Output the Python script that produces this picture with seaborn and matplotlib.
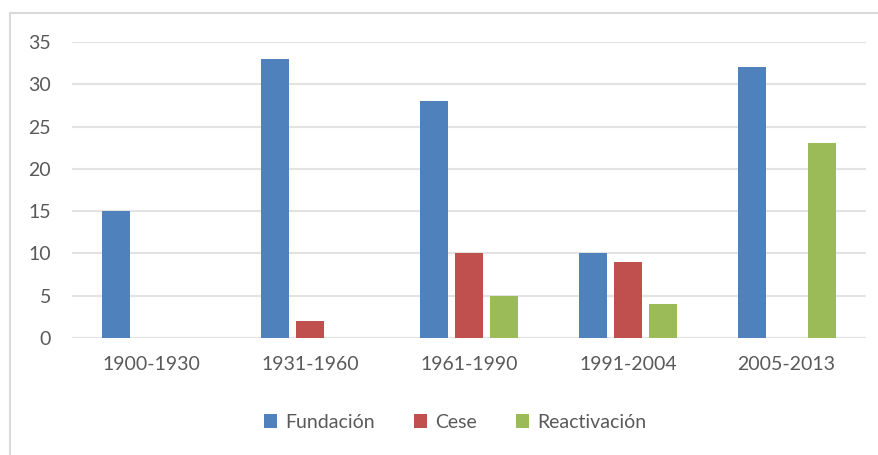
import matplotlib
matplotlib.use('Agg')
import matplotlib.pyplot as plt
from matplotlib.patches import Rectangle
import pandas as pd
import seaborn as sns

periods = ['1900-1930', '1931-1960', '1961-1990', '1991-2004', '2005-2013']
fundacion = [15, 33, 28, 10, 32]
cese = [0, 2, 10, 9, 0]
reactivacion = [0, 0, 5, 4, 23]
series_names = ['Fundación', 'Cese', 'Reactivación']
colors = ['#4F81BD', '#C0504D', '#9BBB59']

rows = []
for name, values in zip(series_names, [fundacion, cese, reactivacion]):
    for period, v in zip(periods, values):
        rows.append({'period': period, 'serie': name, 'value': v})
df = pd.DataFrame(rows)

sns.set_style('white')
plt.rcParams['font.family'] = ['Lato', 'DejaVu Sans']

fig = plt.figure(figsize=(8.79, 4.55), dpi=100)
ax = fig.add_axes([72 / 879, 1 - 338 / 455, 794 / 879, 296 / 455])

sns.barplot(
    data=df, x='period', y='value', hue='serie',
    palette=colors, saturation=1, width=0.66, gap=0.2, ax=ax,
    order=periods, hue_order=series_names, linewidth=0,
)

ax.set_xlim(-0.5, 4.5)
ax.set_ylim(0, 35)
ax.set_yticks(range(0, 36, 5))
ax.set_xlabel('')
ax.set_ylabel('')
ax.yaxis.grid(True, color='#E3E3E3', linewidth=1.5)
ax.set_axisbelow(True)
for spine in ax.spines.values():
    spine.set_visible(False)
ax.axhline(0, color='#D9D9D9', linewidth=1.5, zorder=0.5)
ax.tick_params(axis='y', length=0, pad=15, labelsize=14, labelcolor='#595959')
ax.tick_params(axis='x', length=0, pad=13, labelsize=14, labelcolor='#595959')

handles, labels = ax.get_legend_handles_labels()
ax.legend(
    handles, labels, loc='center', bbox_to_anchor=(455 / 879, 1 - 422 / 455),
    bbox_transform=fig.transFigure, ncol=3, frameon=False,
    fontsize=14, labelcolor='#595959', handlelength=0.7, handleheight=0.7,
    handletextpad=0.4, columnspacing=2.0,
)

fig.patches.append(Rectangle((10 / 879, -0.1), 1.2, 1 - 13 / 455 + 0.1,
                             transform=fig.transFigure, fill=False,
                             edgecolor='#D9D9D9', linewidth=1.5))

fig.savefig('out.png', dpi=100)
